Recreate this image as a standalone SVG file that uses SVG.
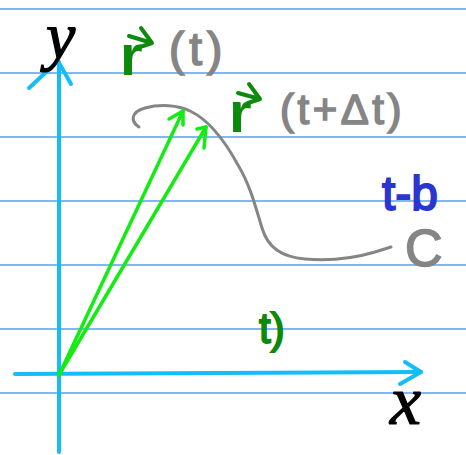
<svg xmlns="http://www.w3.org/2000/svg" width="466" height="455" viewBox="0 0 466 455">
<style>
.rule{stroke:#5c9ef0;stroke-width:1.5;fill:none}
.axis{stroke:#14bdf7;stroke-width:4;fill:none;stroke-linecap:round;stroke-linejoin:round}
.vec{stroke:#12ec12;stroke-width:3.5;fill:none;stroke-linecap:round;stroke-linejoin:round}
.curve{stroke:#858585;stroke-width:3;fill:none;stroke-linecap:round;stroke-linejoin:round}
.gtxt{font-family:"Liberation Sans",sans-serif;fill:#858585;stroke:#858585;stroke-width:1.6}
.rtxt{font-family:"Liberation Sans",sans-serif;fill:#0b8a0b;font-weight:bold}
.rarr{stroke:#0b8a0b;stroke-width:4;fill:none;stroke-linecap:round;stroke-linejoin:round}
.btxt{font-family:"Liberation Serif",serif;font-style:italic;fill:#000;stroke:#000;stroke-width:1.2}
</style>
<rect width="466" height="455" fill="#fff"/>
<g id="rules">
<line class="rule" x1="0" y1="9" x2="466" y2="9"/>
<line class="rule" x1="0" y1="73" x2="466" y2="73"/>
<line class="rule" x1="0" y1="137" x2="466" y2="137"/>
<line class="rule" x1="0" y1="201" x2="466" y2="201"/>
<line class="rule" x1="0" y1="265" x2="466" y2="265"/>
<line class="rule" x1="0" y1="329" x2="466" y2="329"/>
<line class="rule" x1="0" y1="393" x2="466" y2="393"/>
</g>
<g id="axes">
<path class="axis" d="M59,452 L59,62"/>
<path class="axis" d="M29,88 L58,61 L71,84"/>
<path class="axis" d="M15,374 L421,372"/>
<path class="axis" d="M405,362 L421,372 L400,384"/>
</g>
<g id="curve-C">
<path class="curve" d="M139,127 C130,121 131,112 145,108 C160,104 178,105 190,111 C205,118 220,132 238,165 C250,185 255,205 262,228 C268,248 282,257 305,259 C330,261 355,258 375,252 L391,247"/>
</g>
<g id="vectors">
<path class="vec" d="M59,375 L183,111"/>
<path class="vec" d="M169,119 L183,111 L183,125"/>
<path class="vec" d="M59,375 L206,127"/>
<path class="vec" d="M197,129 L206,127 L204,148"/>
</g>
<g id="label-y"><text class="btxt" x="46" y="58" font-size="66">y</text></g>
<g id="label-x"><text class="btxt" x="390" y="424" font-size="70">x</text></g>
<g id="label-rt">
<text class="rtxt" x="120" y="75" font-size="58">r</text>
<path class="rarr" d="M129,36 L152,43 M141,28 L152,43 L140,47"/>
<text class="gtxt" x="169" y="65" font-size="46" letter-spacing="5">(t)</text>
</g>
<g id="label-rtdt">
<text class="rtxt" x="229" y="132" font-size="58">r</text>
<path class="rarr" d="M238,93 L260,99 M249,84 L260,99 L248,103"/>
<text class="gtxt" x="280" y="124" font-size="42" letter-spacing="3.5">(t+Δt)</text>
</g>
<g id="label-tb"><text x="382" y="210" font-size="48" font-family="Liberation Sans,sans-serif" fill="#2b35cf" stroke="#2b35cf" stroke-width="1.8">t-b</text></g>
<g id="label-C"><text class="gtxt" x="405" y="266" font-size="52">C</text></g>
<g id="label-t"><text x="259" y="343" font-size="42" font-family="Liberation Sans,sans-serif" fill="#0b8a0b" stroke="#0b8a0b" stroke-width="1.8">t)</text></g>
</svg>
